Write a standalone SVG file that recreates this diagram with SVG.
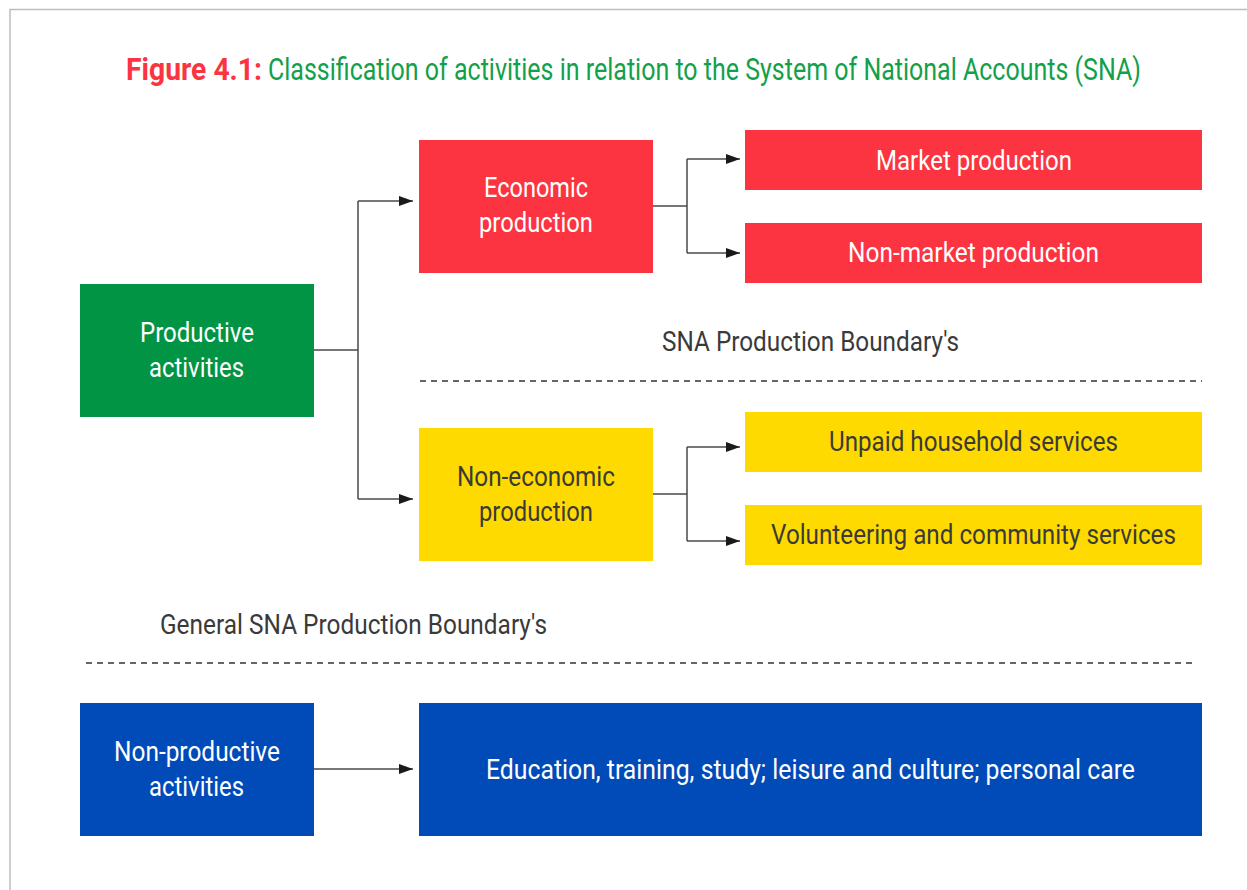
<svg xmlns="http://www.w3.org/2000/svg" width="1247" height="890" viewBox="0 0 1247 890">
  <defs>
    <marker id="arrow" markerWidth="14" markerHeight="10" refX="14" refY="5" orient="auto" markerUnits="userSpaceOnUse">
      <path d="M0,0 L14,5 L0,10 Z" fill="#1a1a1a"/>
    </marker>
    <style>
      text { font-family: Roboto, "Liberation Sans", sans-serif; }
      .lbl { font-size: 27px; fill: #ffffff; }
      .dark { font-size: 27px; fill: #3a3a3a; }
      .conn { fill: none; stroke: #4a4a4a; stroke-width: 1.5; }
      .dash { fill: none; stroke: #333333; stroke-width: 1.5; stroke-dasharray: 6 5; }
      .red { fill: #fc3441; }
      .green { fill: #009444; }
      .yellow { fill: #ffda00; }
      .blue { fill: #004bb8; }
    </style>
  </defs>

  <rect x="0" y="0" width="1247" height="890" fill="#ffffff"/>
  <!-- outer frame -->
  <path d="M10,890 V9.5 H1247" fill="none" stroke="#bdbdbd" stroke-width="1.5"/>

  <!-- title -->
  <g id="title">
    <text x="126" y="80" font-size="31" font-weight="bold" fill="#fc3441" textLength="136" lengthAdjust="spacingAndGlyphs">Figure 4.1:</text>
    <text x="268" y="80" font-size="31" fill="#12a04a" textLength="873" lengthAdjust="spacingAndGlyphs">Classification of activities in relation to the System of National Accounts (SNA)</text>
  </g>

  <!-- connectors -->
  <g id="connectors">
    <path class="conn" d="M314,350 H358 M358,201 V499" />
    <path class="conn" d="M358,201 H413" marker-end="url(#arrow)"/>
    <path class="conn" d="M358,499 H413" marker-end="url(#arrow)"/>
    <path class="conn" d="M653,206 H687 M687,159 V253"/>
    <path class="conn" d="M687,159 H740" marker-end="url(#arrow)"/>
    <path class="conn" d="M687,253 H740" marker-end="url(#arrow)"/>
    <path class="conn" d="M653,494 H687 M687,447 V541"/>
    <path class="conn" d="M687,447 H740" marker-end="url(#arrow)"/>
    <path class="conn" d="M687,541 H740" marker-end="url(#arrow)"/>
    <path class="conn" d="M314,769 H413" marker-end="url(#arrow)"/>
  </g>

  <!-- boundaries -->
  <g id="sna-boundary">
    <text class="dark" x="662" y="351" textLength="297" lengthAdjust="spacingAndGlyphs">SNA Production Boundary's</text>
    <line class="dash" x1="420" y1="381" x2="1202" y2="381"/>
  </g>
  <g id="general-boundary">
    <text class="dark" x="160" y="634" textLength="387" lengthAdjust="spacingAndGlyphs">General SNA Production Boundary's</text>
    <line class="dash" x1="86" y1="663" x2="1197" y2="663" stroke="#555555" stroke-dasharray="5 5"/>
  </g>

  <!-- nodes -->
  <g id="productive">
    <rect class="green" x="80" y="284" width="234" height="133"/>
    <text class="lbl" x="140" y="342" textLength="114" lengthAdjust="spacingAndGlyphs">Productive</text>
    <text class="lbl" x="149" y="377" textLength="95" lengthAdjust="spacingAndGlyphs">activities</text>
  </g>
  <g id="economic">
    <rect class="red" x="419" y="140" width="234" height="133"/>
    <text class="lbl" x="484" y="197" textLength="104" lengthAdjust="spacingAndGlyphs">Economic</text>
    <text class="lbl" x="479" y="232" textLength="114" lengthAdjust="spacingAndGlyphs">production</text>
  </g>
  <g id="market">
    <rect class="red" x="745" y="130" width="457" height="60"/>
    <text class="lbl" x="876" y="170" textLength="196" lengthAdjust="spacingAndGlyphs">Market production</text>
  </g>
  <g id="non-market">
    <rect class="red" x="745" y="223" width="457" height="60"/>
    <text class="lbl" x="848" y="262" textLength="251" lengthAdjust="spacingAndGlyphs">Non-market production</text>
  </g>
  <g id="non-economic">
    <rect class="yellow" x="419" y="428" width="234" height="133"/>
    <text class="dark" x="457" y="486" textLength="158" lengthAdjust="spacingAndGlyphs">Non-economic</text>
    <text class="dark" x="479" y="521" textLength="114" lengthAdjust="spacingAndGlyphs">production</text>
  </g>
  <g id="unpaid">
    <rect class="yellow" x="745" y="412" width="457" height="60"/>
    <text class="dark" x="829" y="451" textLength="289" lengthAdjust="spacingAndGlyphs">Unpaid household services</text>
  </g>
  <g id="volunteering">
    <rect class="yellow" x="745" y="505" width="457" height="60"/>
    <text class="dark" x="771" y="544" textLength="405" lengthAdjust="spacingAndGlyphs">Volunteering and community services</text>
  </g>
  <g id="non-productive">
    <rect class="blue" x="80" y="703" width="234" height="133"/>
    <text class="lbl" x="114" y="761" textLength="166" lengthAdjust="spacingAndGlyphs">Non-productive</text>
    <text class="lbl" x="149" y="796" textLength="95" lengthAdjust="spacingAndGlyphs">activities</text>
  </g>
  <g id="education">
    <rect class="blue" x="419" y="703" width="783" height="133"/>
    <text class="lbl" x="486" y="779" textLength="649" lengthAdjust="spacingAndGlyphs">Education, training, study; leisure and culture; personal care</text>
  </g>
</svg>
